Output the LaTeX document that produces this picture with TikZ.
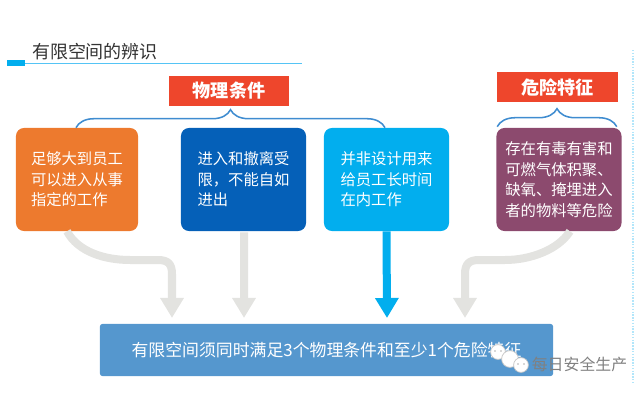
\documentclass[tikz,border=0pt]{standalone}
\usepackage{fontspec}
\setmainfont{Noto Sans CJK SC}
\usepackage{xcolor}
\usetikzlibrary{arrows.meta,calc,decorations.pathreplacing}
\definecolor{orangebox}{HTML}{ED7A2E}
\definecolor{bluebox}{HTML}{0560B8}
\definecolor{cyanbox}{HTML}{02AEEE}
\definecolor{plumbox}{HTML}{8C4A6E}
\definecolor{resultbox}{HTML}{5597CE}
\definecolor{redbox}{HTML}{EE462C}
\definecolor{palegray}{HTML}{E3E3E0}
\definecolor{bracecol}{HTML}{3F8CD0}
\definecolor{rulecol}{HTML}{55C4F5}
\definecolor{titlecol}{HTML}{333333}
\tikzset{
  card/.style={rounded corners=0.2cm, minimum width=3.125cm, minimum height=2.575cm, inner sep=0pt, align=left, text=white, font=\fontsize{10.9}{14.6}\selectfont},
  tag/.style={fill=redbox, minimum width=3cm, minimum height=0.75cm, inner sep=0pt, text=white, font=\fontsize{12.9}{15}\selectfont\bfseries},
  flow/.style={line width=0.2cm, -{Triangle[width=0.56cm,length=0.5cm]}},
  bracket/.style={draw=bracecol, line width=1.1pt, decorate, decoration={brace, amplitude=0.45cm}},
  bubble/.style={circle, fill=white, draw=gray!45, line width=0.5pt, minimum size=0.37cm, inner sep=0pt},
  eye/.style={circle, fill=gray!60, minimum size=0.04cm, inner sep=0pt}
}
\begin{document}
\begin{tikzpicture}[x=0.025cm,y=-0.025cm]
\useasboundingbox (0,0) rectangle (640,401);
\draw [rulecol, line width=1.2pt] (25,63.5) -- (302,63.5);
\fill [cyanbox] (7,60) rectangle (25,66);
\draw [cyan!30, densely dotted, line width=1pt] (633,50) -- (633,383);
\node [text=titlecol] (title) at (95,52) {\fontsize{12.8}{15}\selectfont 有限空间的辨识};
\node [tag] (physical) at (229,91) {物理条件};
\node [tag] (hazard) at (557.5,87) {危险特征};
\node [card, fill=orangebox, minimum width=3.05cm] (space) at (77,179.5) {足够大到员工\\可以进入从事\\指定的工作};
\node [card, fill=bluebox] (limited) at (243.5,179.5) {进入和撤离受\\限，不能自如\\进出};
\node [card, fill=cyanbox] (design) at (386.5,179.5) {并非设计用来\\给员工长时间\\在内工作};
\node [card, fill=plumbox] (danger) at (559,179.5) {存在有毒有害和\\可燃气体积聚、\\缺氧、掩埋进入\\者的物料等危险};
\node [rounded corners=0.06cm, fill=resultbox, minimum width=11.325cm, minimum height=1.3cm, inner sep=0pt, text=white, font=\fontsize{12}{15}\selectfont] (result) at (326.5,350) {有限空间须同时满足3个物理条件和至少1个危险特征};
\coordinate (l1) at ($(space.north)+(-1,0)$);
\coordinate (r1) at ($(design.north)+(-1.5,0)$);
\coordinate (l2) at ($(danger.north west)+(1,-1)$);
\coordinate (r2) at ($(danger.north east)+(-5,-1)$);
\draw [bracket] (l1) -- (r1);
\draw [bracket] (l2) -- (r2);
\coordinate (a1) at (172,318);
\coordinate (a2) at (244,318);
\coordinate (a3) at (387,318);
\coordinate (a4) at (465,318);
\draw [flow, palegray] ($(space.south)+(-10,0)$) .. controls (78,252) and (105,260) .. (130,260) -- (158,260) .. controls (168,260) and (172,264) .. (172,274) -- (a1);
\draw [flow, palegray] (limited.south) ++(0.5,1) -- (a2);
\draw [flow, cyanbox] (design.south) -- (a3);
\draw [flow, palegray] ($(danger.south)+(11,0)$) .. controls (558,250) and (530,260) .. (505,260) -- (479,260) .. controls (469,260) and (465,264) .. (465,274) -- (a4);
\node [bubble] (wx1) at (498,352) {};
\node [bubble, minimum size=0.42cm] (wx2) at (510,359) {};
\node [bubble] (wx3) at (521,365) {};
\node [eye] (wx1a) at (495,351) {};
\node [eye] (wx1b) at (501,351) {};
\node [eye] (wx3a) at (518,364) {};
\node [eye] (wx3b) at (524,364) {};
\node [text=gray, font=\fontsize{11.3}{14}\selectfont] (mark) at (579.5,364) {每日安全生产};
\end{tikzpicture}
\end{document}
